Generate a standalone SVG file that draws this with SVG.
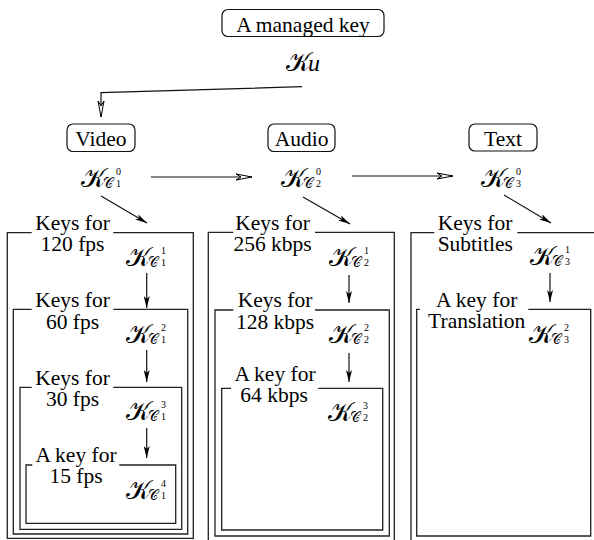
<svg xmlns="http://www.w3.org/2000/svg" width="594" height="540" viewBox="0 0 594 540">
<defs>
<style>
.t{font-family:'Liberation Serif','Times New Roman',serif;font-size:21.5px;fill:#000;text-anchor:middle}
.kk{font-family:'DejaVu Serif','DejaVu Sans',serif;font-size:26px;fill:#000}
.kc{font-size:14px}
.ks{font-family:'Liberation Serif',serif;font-size:10px}
.ku{font-family:'Liberation Serif',serif;font-style:italic;font-size:24px}
.rb{fill:#fff;stroke:#111;stroke-width:1.2}
.bx{fill:none;stroke:#222;stroke-width:1.3}
.ln{fill:none;stroke:#111;stroke-width:1.2}
</style>
<marker id="fa" viewBox="0 0 12 6" refX="12" refY="3" markerWidth="12" markerHeight="6" markerUnits="userSpaceOnUse" orient="auto">
<path d="M0,0 L12,3 L0,6 L3,3 Z" fill="#000"/>
</marker>
<marker id="oa" viewBox="-1 -1 19 9" refX="16" refY="3.5" markerWidth="19" markerHeight="9" markerUnits="userSpaceOnUse" orient="auto">
<path d="M0,0.5 L16,3.5 L0,6.5 L5,3.5 Z" fill="#fff" stroke="#000" stroke-width="1"/>
</marker>
</defs>

<g id="boxes">
<path class="bx" d="M31.7,232.7 H7.3 V538.3 H193.3 V232.7 H113.3"/>
<path class="bx" d="M31.7,309.3 H13.3 V534 H187.7 V309.3 H113.3"/>
<path class="bx" d="M31.7,387.3 H20 V529.3 H181.7 V387.3 H113.3"/>
<path class="bx" d="M32.3,465 H26 V523.3 H175.7 V465 H119.3"/>
<path class="bx" d="M233.3,232.3 H208.3 V546 H394.3 V232.3 H315"/>
<path class="bx" d="M233.3,310 H215 V536 H389.3 V310 H315"/>
<path class="bx" d="M231,388.3 H221.7 V530 H382.7 V388.3 H318.3"/>
<path class="bx" d="M434.3,232.7 H411 V546 H600 V232.7 H517.3"/>
<path class="bx" d="M420,309.3 H416.7 V536 H590.7 V309.3 H528.3"/>
</g>

<g id="labels">
<text class="t" x="72.5" y="230">Keys for</text><text class="t" x="72.5" y="251">120 fps</text>
<text class="t" x="72.5" y="307">Keys for</text><text class="t" x="72.5" y="329">60 fps</text>
<text class="t" x="72.5" y="385">Keys for</text><text class="t" x="72.5" y="406">30 fps</text>
<text class="t" x="76" y="462">A key for</text><text class="t" x="76" y="483">15 fps</text>
<text class="t" x="272.5" y="230">Keys for</text><text class="t" x="272.5" y="251">256 kbps</text>
<text class="t" x="275" y="307">Keys for</text><text class="t" x="275" y="329">128 kbps</text>
<text class="t" x="275" y="381">A key for</text><text class="t" x="274" y="402">64 kbps</text>
<text class="t" x="475" y="230">Keys for</text><text class="t" x="475.3" y="250.5">Subtitles</text>
<text class="t" x="476.7" y="306.5">A key for</text><text class="t" x="476.7" y="327.5">Translation</text>
</g>

<g id="n-top">
<rect class="rb" x="222" y="9.5" width="162" height="27" rx="6"/>
<text class="t" x="303" y="32">A managed key</text>
</g>
<g id="n-ku">
<text class="kk" x="286" y="71">𝒦<tspan class="ku" dx="-2">u</tspan></text>
</g>
<g id="n-video">
<rect class="rb" x="67" y="124" width="68" height="27.5" rx="6"/>
<text class="t" x="101" y="146">Video</text>
</g>
<g id="n-audio">
<rect class="rb" x="268" y="124" width="67" height="27.5" rx="6"/>
<text class="t" x="301.5" y="146">Audio</text>
</g>
<g id="n-text">
<rect class="rb" x="469" y="124" width="68" height="27" rx="6"/>
<text class="t" x="503" y="146">Text</text>
</g>

<g id="n-kc01"><text class="kk" x="81" y="187">𝒦<tspan class="kc" dx="-2" dy="1">𝒞</tspan><tspan class="ks" x="116" dy="-13">0</tspan><tspan class="ks" x="116" dy="12">1</tspan></text></g>
<g id="n-kc02"><text class="kk" x="281" y="187">𝒦<tspan class="kc" dx="-2" dy="1">𝒞</tspan><tspan class="ks" x="316" dy="-13">0</tspan><tspan class="ks" x="316" dy="12">2</tspan></text></g>
<g id="n-kc03"><text class="kk" x="481" y="187">𝒦<tspan class="kc" dx="-2" dy="1">𝒞</tspan><tspan class="ks" x="516" dy="-13">0</tspan><tspan class="ks" x="516" dy="12">3</tspan></text></g>
<g id="n-kc11"><text class="kk" x="126" y="266">𝒦<tspan class="kc" dx="-2" dy="1">𝒞</tspan><tspan class="ks" x="161" dy="-13">1</tspan><tspan class="ks" x="161" dy="12">1</tspan></text></g>
<g id="n-kc21"><text class="kk" x="126" y="343">𝒦<tspan class="kc" dx="-2" dy="1">𝒞</tspan><tspan class="ks" x="161" dy="-13">2</tspan><tspan class="ks" x="161" dy="12">1</tspan></text></g>
<g id="n-kc31"><text class="kk" x="126" y="420">𝒦<tspan class="kc" dx="-2" dy="1">𝒞</tspan><tspan class="ks" x="161" dy="-13">3</tspan><tspan class="ks" x="161" dy="12">1</tspan></text></g>
<g id="n-kc41"><text class="kk" x="126" y="499">𝒦<tspan class="kc" dx="-2" dy="1">𝒞</tspan><tspan class="ks" x="161" dy="-13">4</tspan><tspan class="ks" x="161" dy="12">1</tspan></text></g>
<g id="n-kc12"><text class="kk" x="329" y="266">𝒦<tspan class="kc" dx="-2" dy="1">𝒞</tspan><tspan class="ks" x="364" dy="-13">1</tspan><tspan class="ks" x="364" dy="12">2</tspan></text></g>
<g id="n-kc22"><text class="kk" x="329" y="343">𝒦<tspan class="kc" dx="-2" dy="1">𝒞</tspan><tspan class="ks" x="364" dy="-13">2</tspan><tspan class="ks" x="364" dy="12">2</tspan></text></g>
<g id="n-kc32"><text class="kk" x="328" y="421">𝒦<tspan class="kc" dx="-2" dy="1">𝒞</tspan><tspan class="ks" x="363" dy="-13">3</tspan><tspan class="ks" x="363" dy="12">2</tspan></text></g>
<g id="n-kc13"><text class="kk" x="530" y="265">𝒦<tspan class="kc" dx="-2" dy="1">𝒞</tspan><tspan class="ks" x="565" dy="-13">1</tspan><tspan class="ks" x="565" dy="12">3</tspan></text></g>
<g id="n-kc23"><text class="kk" x="529" y="343">𝒦<tspan class="kc" dx="-2" dy="1">𝒞</tspan><tspan class="ks" x="564" dy="-13">2</tspan><tspan class="ks" x="564" dy="12">3</tspan></text></g>

<g id="connectors">
<polyline class="ln" points="302,86.7 101,92.7 101,117" marker-end="url(#oa)"/>
<line class="ln" x1="151" y1="177" x2="252" y2="177" marker-end="url(#oa)"/>
<line class="ln" x1="352" y1="176" x2="453" y2="176" marker-end="url(#oa)"/>
<line class="ln" x1="101" y1="196" x2="147" y2="223" marker-end="url(#fa)"/>
<line class="ln" x1="303" y1="197" x2="350" y2="224" marker-end="url(#fa)"/>
<line class="ln" x1="504" y1="195" x2="551" y2="223" marker-end="url(#fa)"/>
<line class="ln" x1="146.7" y1="273" x2="146.7" y2="308" marker-end="url(#fa)"/>
<line class="ln" x1="146.7" y1="350" x2="146.7" y2="382" marker-end="url(#fa)"/>
<line class="ln" x1="146.7" y1="428" x2="146.7" y2="458" marker-end="url(#fa)"/>
<line class="ln" x1="349" y1="275" x2="349" y2="303" marker-end="url(#fa)"/>
<line class="ln" x1="349" y1="353" x2="349" y2="382" marker-end="url(#fa)"/>
<line class="ln" x1="550" y1="273" x2="550" y2="302" marker-end="url(#fa)"/>
</g>
</svg>
